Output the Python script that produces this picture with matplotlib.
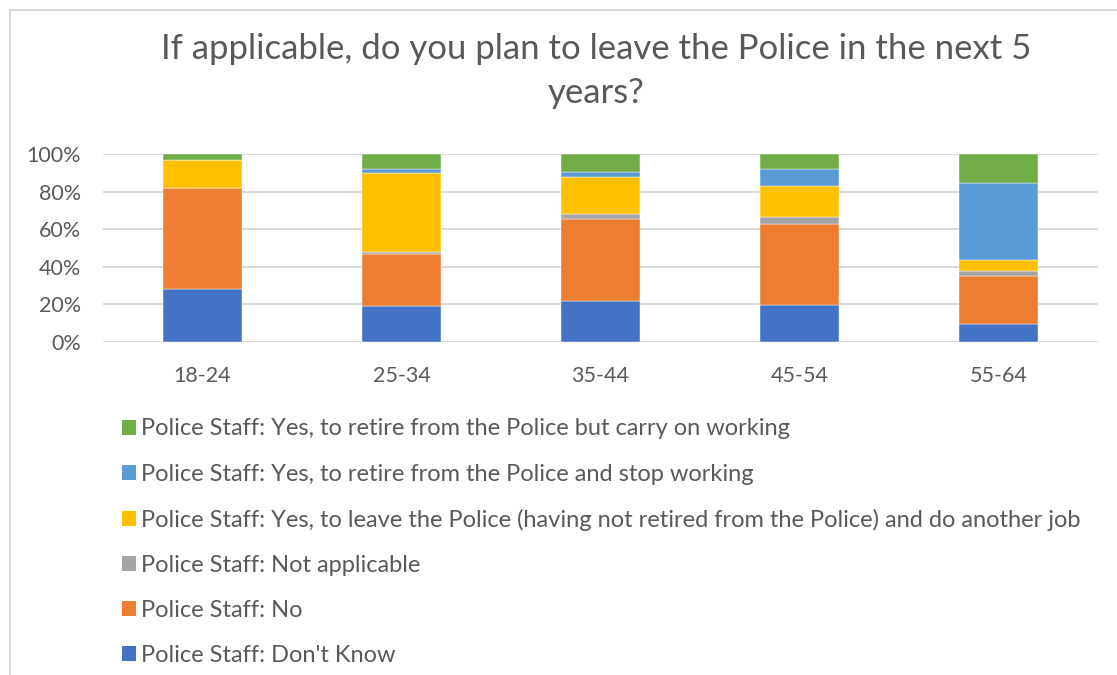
import matplotlib
matplotlib.use("Agg")
import matplotlib.pyplot as plt
from matplotlib.patches import Rectangle, Patch
import numpy as np

plt.rcParams["font.family"] = ["Lato", "DejaVu Sans"]

age_groups = ["18-24", "25-34", "35-44", "45-54", "55-64"]

# percentage of respondents in each age band, bottom of stack first
dont_know = [28.2, 19.3, 22.0, 19.9, 9.8]
no = [53.9, 27.7, 43.6, 43.0, 25.5]
not_applicable = [0.0, 1.0, 2.7, 3.8, 2.6]
leave_other_job = [14.5, 41.9, 19.6, 16.3, 5.7]
retire_stop = [0.0, 2.1, 2.7, 8.8, 40.8]
retire_keep_working = [3.4, 8.0, 9.4, 8.2, 15.6]

series = [
    ("Police Staff: Don't Know", dont_know, "#4472C4"),
    ("Police Staff: No", no, "#ED7D31"),
    ("Police Staff: Not applicable", not_applicable, "#A5A5A5"),
    ("Police Staff: Yes, to leave the Police (having not retired from the Police) and do another job",
     leave_other_job, "#FFC000"),
    ("Police Staff: Yes, to retire from the Police and stop working", retire_stop, "#5B9BD5"),
    ("Police Staff: Yes, to retire from the Police but carry on working", retire_keep_working, "#70AD47"),
]

text_color = "#595959"
grid_color = "#D9D9D9"

W, H = 1117, 675
fig = plt.figure(figsize=(W / 100, H / 100), dpi=100)
ax = fig.add_axes([103 / W, 1 - 342 / H, (1098 - 103) / W, (342 - 154) / H])

x = np.arange(len(age_groups))
bottom = np.zeros(len(age_groups))
for label, vals, color in series:
    ax.bar(x, vals, width=0.4, bottom=bottom, color=color, label=label,
           edgecolor="white", linewidth=0.3, zorder=3)
    bottom += np.array(vals)

ax.set_xlim(-0.5, len(age_groups) - 0.5)
ax.set_ylim(0, 100)
ax.set_yticks(range(0, 101, 20))
ax.set_yticklabels([f"{v}%" for v in range(0, 101, 20)])
ax.set_xticks(x)
ax.set_xticklabels(age_groups)
ax.tick_params(axis="both", length=0, colors=text_color, labelsize=15.5)
ax.tick_params(axis="y", pad=16)
ax.tick_params(axis="x", pad=17)
ax.grid(axis="y", color=grid_color, linewidth=1.4, zorder=0)
for s in ax.spines.values():
    s.set_visible(False)

fig.text(596 / W, 1 - 71 / H,
         "If applicable, do you plan to leave the Police in the next 5\nyears?",
         ha="center", va="center", fontsize=25, color=text_color, linespacing=1.45)

handles = [Patch(facecolor=c, label=l) for l, _, c in reversed(series)]
fig.legend(handles=handles, loc="upper left", bbox_to_anchor=(113 / W, 1 - 409 / H),
           frameon=False, fontsize=17, labelcolor=text_color,
           handlelength=0.59, handleheight=0.59, handletextpad=0.2,
           labelspacing=1.02, borderaxespad=0)

# chart area outline
fig.patches.append(Rectangle((10 / W, -0.1), 1.2, 0.1 + (675 - 9.5) / H, fill=False,
                             edgecolor=grid_color, linewidth=1.5,
                             transform=fig.transFigure, figure=fig))

fig.savefig("out.png", dpi=100)
